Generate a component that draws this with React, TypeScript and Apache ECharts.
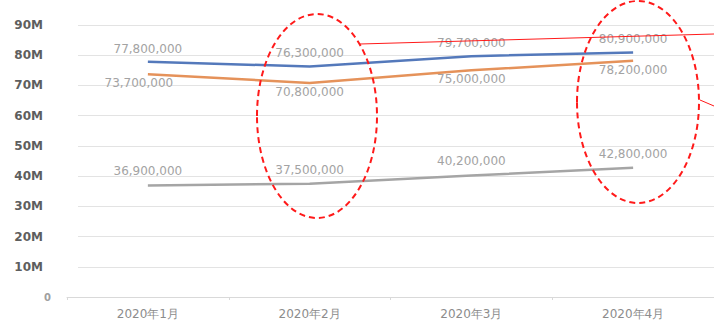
import React, { useEffect, useRef } from "react";
import * as echarts from "echarts";

const categories = ["2020年1月", "2020年2月", "2020年3月", "2020年4月"];
const seriesBlue = [77800000, 76300000, 79700000, 80900000];
const seriesOrange = [73700000, 70800000, 75000000, 78200000];
const seriesGray = [36900000, 37500000, 40200000, 42800000];
const yTicks = [0, 10000000, 20000000, 30000000, 40000000, 50000000, 60000000, 70000000, 80000000, 90000000];

const fmt = (v: number) => Number(v).toLocaleString("en-US");
const FONT = "DejaVu Sans";

export default function App() {
  const ref = useRef<HTMLDivElement>(null);
  useEffect(() => {
    if (!ref.current) return;
    const chart = echarts.init(ref.current, null, { renderer: "svg" });
    const labelBase = {
      show: true,
      formatter: (p: any) => fmt(Array.isArray(p.value) ? p.value[1] : p.value),
      color: "#a3a3a3",
      fontSize: 12,
      fontFamily: FONT,
      opacity: 1,
    };
    const common = {
      type: "line",
      xAxisIndex: 1,
      yAxisIndex: 1,
      showSymbol: true,
      symbol: "circle",
      symbolSize: 0.1,
    };
    const yMin = yTicks[0];
    const yMax = yTicks[yTicks.length - 1];
    const yInt = yTicks[1] - yTicks[0];
    chart.setOption({
      animation: false,
      backgroundColor: "#ffffff",
      grid: [
        { left: 78, top: 25, width: 642, height: 272 },
        { left: 67, top: 25, width: 655, height: 272 },
      ],
      xAxis: [
        { type: "value", gridIndex: 0, show: false, min: 0, max: 1 },
        {
          type: "category",
          gridIndex: 1,
          data: categories,
          boundaryGap: true,
          axisLine: { show: true, lineStyle: { color: "#d9d9d9", width: 1 } },
          axisTick: { show: true, length: 3, lineStyle: { color: "#d9d9d9" } },
          axisLabel: { color: "#8c8c8c", fontSize: 12, fontFamily: FONT, margin: 11 },
        },
      ],
      yAxis: [
        {
          type: "value",
          gridIndex: 0,
          min: yMin,
          max: yMax,
          interval: yInt,
          axisLine: { show: false },
          axisTick: { show: false },
          splitLine: { lineStyle: { color: "#e3e3e3", width: 1 } },
          axisLabel: {
            margin: 35,
            fontFamily: FONT,
            formatter: (v: number) => (v === 0 ? "{z|0}" : v / 1000000 + "M"),
            color: "#5e5e5e",
            fontSize: 12,
            fontWeight: "bold",
            rich: { z: { color: "#a0a0a0", fontSize: 10, padding: [0, -8, 0, 0] } },
          },
        },
        {
          type: "value",
          gridIndex: 1,
          min: yMin,
          max: yMax,
          interval: yInt,
          show: false,
          splitLine: { show: false },
        },
      ],
      series: [
        {
          ...common,
          data: seriesBlue,
          lineStyle: { color: "#5479bb", width: 2.5 },
          itemStyle: { color: "#5479bb" },
          label: { ...labelBase, position: "top", distance: 7 },
        },
        {
          ...common,
          data: seriesOrange.map((v, i) => (i === 0 ? { value: v, label: { offset: [-9, 0] } } : v)),
          lineStyle: { color: "#e5925a", width: 2.5 },
          itemStyle: { color: "#e5925a" },
          label: { ...labelBase, position: "bottom", distance: 3 },
        },
        {
          ...common,
          data: seriesGray,
          lineStyle: { color: "#a5a5a5", width: 2.5 },
          itemStyle: { color: "#a5a5a5" },
          label: { ...labelBase, position: "top", distance: 8 },
        },
      ],
      graphic: [
        {
          type: "ellipse",
          shape: { cx: 317, cy: 116, rx: 60, ry: 102 },
          style: { fill: "none", stroke: "#ff1a1a", lineWidth: 2, lineDash: [6, 4] },
          z: 100,
        },
        {
          type: "ellipse",
          shape: { cx: 638, cy: 102, rx: 61, ry: 101 },
          style: { fill: "none", stroke: "#ff1a1a", lineWidth: 2, lineDash: [6, 4] },
          z: 100,
        },
        {
          type: "line",
          shape: { x1: 360, y1: 44, x2: 714, y2: 34 },
          style: { stroke: "#ff1a1a", lineWidth: 1 },
          z: 100,
        },
        {
          type: "line",
          shape: { x1: 700, y1: 100, x2: 714, y2: 106 },
          style: { stroke: "#ff1a1a", lineWidth: 1 },
          z: 100,
        },
      ],
    });
    return () => chart.dispose();
  }, []);
  return <div ref={ref} style={{ width: 714, height: 325, position: "absolute", left: 0, top: 0 }} />;
}
